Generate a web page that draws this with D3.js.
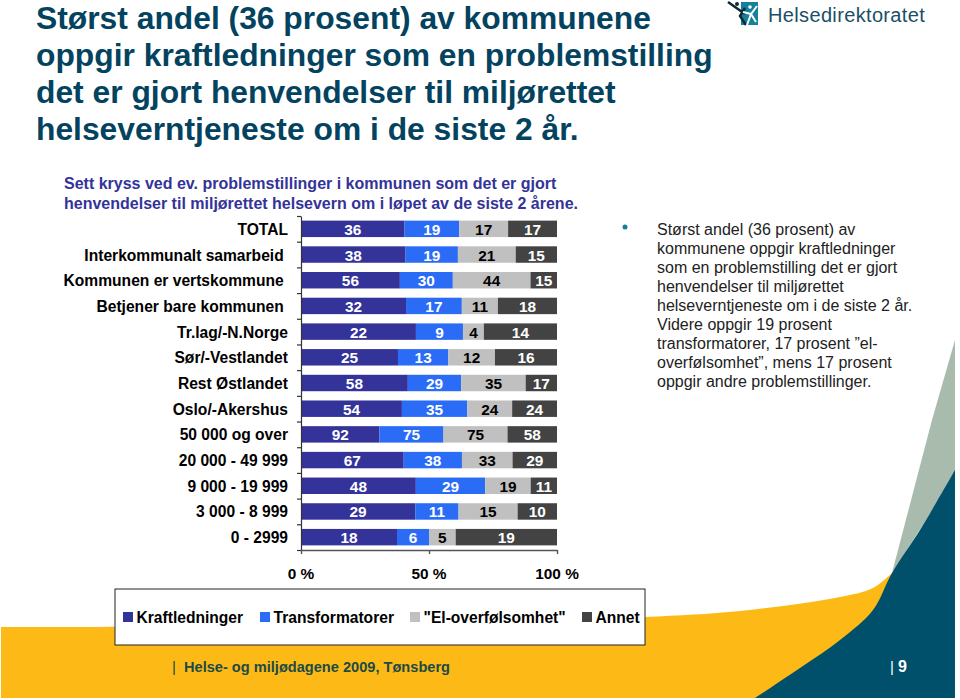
<!DOCTYPE html>
<html><head><meta charset="utf-8">
<script src="https://cdn.jsdelivr.net/npm/d3@7"></script>
<style>
html,body{margin:0;padding:0;background:#fff}
svg{display:block}
text{font-family:"Liberation Sans",Arial,sans-serif;white-space:pre}
</style></head><body>
<svg id="c" width="960" height="700"></svg>
<script>
const titleLines=["Størst andel (36 prosent) av kommunene","oppgir kraftledninger som en problemstilling","det er gjort henvendelser til miljørettet","helseverntjeneste om i de siste 2 år."];
const subtitleLines=["Sett kryss ved ev. problemstillinger i kommunen som det er gjort","henvendelser til miljørettet helsevern om i løpet av de siste 2 årene."];
const bodyLines=["Størst andel (36 prosent) av","kommunene oppgir kraftledninger","som en problemstilling det er gjort","henvendelser til miljørettet","helseverntjeneste om i de siste 2 år.","Videre oppgir 19 prosent","transformatorer, 17 prosent ”el-","overfølsomhet”, mens 17 prosent","oppgir andre problemstillinger."];
const categories=["TOTAL","Interkommunalt samarbeid ","Kommunen er vertskommune ","Betjener bare kommunen ","Tr.lag/-N.Norge","Sør/-Vestlandet","Rest Østlandet","Oslo/-Akershus","50 000 og over","20 000 - 49 999","9 000 - 19 999","3 000 - 8 999","0 - 2999"];
const seriesNames=["Kraftledninger","Transformatorer","\"El-overfølsomhet\"","Annet"];
const kraftledninger=[36,38,56,32,22,25,58,54,92,67,48,29,18];
const transformatorer=[19,19,30,17,9,13,29,35,75,38,29,11,6];
const elOverfolsomhet=[17,21,44,11,4,12,35,24,75,33,19,15,5];
const annet=[17,15,15,18,14,16,17,24,58,29,11,10,19];
const seriesValues=[kraftledninger,transformatorer,elOverfolsomhet,annet];
const seriesColors=["#333399","#2b6cf6","#c0c0c0","#434343"];
const labelColors=["#fff","#fff","#000","#fff"];
const xTicks=[0,0.5,1];
const footerText="Helse- og miljødagene 2009, Tønsberg";
const pageNumber="9";

const svg=d3.select("#c");
const line=d3.line().curve(d3.curveCatmullRom.alpha(.5));

// slide background shapes
const orange=[[1,627],[100,627],[300,625],[500,621],[645,617],[740,611],[840,597],[873,588],[892,573]];
svg.append("path").attr("fill","#fdba17").attr("d",line(orange)+"L892,640L755,698L1,698Z");
svg.append("path").attr("fill","#a9bbac").attr("d","M892,573L932,420L955,340L955,475Z");
const teal=[[755,698],[800,668],[840,640],[873,610],[892,573],[920,530],[955,470]];
svg.append("path").attr("fill","#00506b").attr("d",line(teal)+"L955,698Z");

// logo
const logo=svg.append("g");
logo.append("rect").attr("x",741).attr("y",2).attr("width",17).attr("height",23).attr("fill","#15809b");
logo.append("path").attr("fill","none").attr("stroke","#0b2a36").attr("stroke-width",2.5).attr("d","M728,2L745,14M745,8L740,16L746,25");
logo.append("circle").attr("cx",737).attr("cy",4).attr("r",2).attr("fill","#0b2a36");
logo.append("path").attr("fill","none").attr("stroke","#fff").attr("stroke-width",2).attr("d","M743,12L751,14L757,6M751,14L747,25M751,14L756,22");
logo.append("circle").attr("cx",750).attr("cy",7).attr("r",1.8).attr("fill","#fff");
logo.append("text").attr("x",768).attr("y",22)
  .style("font-size","20px").style("letter-spacing","0.35px").attr("fill","#1a4f66").text("Helsedirektoratet");

// title, subtitle
svg.append("g").selectAll("text").data(titleLines).join("text")
  .attr("x",36).attr("y",(d,i)=>29+i*37).attr("fill","#04435f").style("font-size","31.8px").style("font-weight","700").text(d=>d);
svg.append("g").selectAll("text").data(subtitleLines).join("text")
  .attr("x",64).attr("y",(d,i)=>189+i*20).attr("fill","#333399").style("font-size","16px").style("font-weight","700").text(d=>d);

// chart
const x=d3.scaleLinear().domain([0,1]).range([301,557]);
const yBand=d3.scaleBand().domain(categories).range([216,550]).paddingInner(.36).paddingOuter(.18);
const yTick=d3.scaleLinear().domain([0,categories.length]).range([216,550]);
const rows=categories.map((c,i)=>{const r={cat:c,total:d3.sum(seriesValues,s=>s[i])};seriesNames.forEach((n,j)=>r[n]=seriesValues[j][i]/r.total);return r;});
const stack=d3.stack().keys(seriesNames)(rows);
stack.forEach((layer,j)=>{
  const g=svg.append("g");
  g.selectAll("rect").data(layer).join("rect")
    .attr("x",d=>x(d[0])).attr("width",d=>x(d[1])-x(d[0]))
    .attr("y",d=>yBand(d.data.cat)).attr("height",yBand.bandwidth()).attr("fill",seriesColors[j]);
  g.selectAll("text").data(layer).join("text")
    .attr("x",d=>(x(d[0])+x(d[1]))/2).attr("y",d=>yBand(d.data.cat)+yBand.bandwidth()/2+6)
    .attr("text-anchor","middle").attr("fill",labelColors[j]).style("font-size","15.4px").style("font-weight","700")
    .text((d,i)=>seriesValues[j][i]);
});
const ax=svg.append("g").attr("transform","translate(301,0)")
  .call(d3.axisLeft(yTick).tickValues(d3.range(categories.length+1)).tickFormat("").tickSize(4).tickSizeOuter(0));
ax.selectAll("path,line").attr("stroke","#333").attr("stroke-width",1.2);
const bx=svg.append("g").attr("transform","translate(0,550)")
  .call(d3.axisBottom(x).tickValues(xTicks).tickFormat("").tickSize(4).tickSizeOuter(0));
bx.selectAll("path,line").attr("stroke","#555").attr("stroke-width",1.4);
svg.append("g").selectAll("text").data(xTicks).join("text")
  .attr("x",d=>x(d)).attr("y",579).attr("text-anchor","middle").attr("fill","#000").style("font-size","15.4px").style("font-weight","700")
  .text(d=>d3.format(".0f")(d*100)+" %");
svg.append("g").selectAll("text").data(categories).join("text")
  .attr("x",288).attr("y",d=>yBand(d)+yBand.bandwidth()/2+6).attr("text-anchor","end").attr("fill","#000")
  .style("font-size","15.6px").style("font-weight","700").text(d=>d);

// legend
svg.append("rect").attr("x",115).attr("y",589).attr("width",530).attr("height",56)
  .attr("fill","#fff").attr("stroke","#222").attr("stroke-width",1);
const legX=[123,260,410,582];
const lg=svg.append("g").selectAll("g").data(seriesNames).join("g").attr("transform",(d,i)=>`translate(${legX[i]},0)`);
lg.append("rect").attr("y",612).attr("width",10).attr("height",10).attr("fill",(d,i)=>seriesColors[i]);
lg.append("text").attr("x",13.5).attr("y",622.5).attr("fill","#000").style("font-size","15.6px").style("font-weight","700").text(d=>d);

// body text
svg.append("circle").attr("cx",625).attr("cy",227).attr("r",2.5).attr("fill","#15809b");
svg.append("g").selectAll("text").data(bodyLines).join("text")
  .attr("x",657).attr("y",(d,i)=>234.5+i*19).attr("fill","#222").style("font-size","16px").text(d=>d);

// footer
svg.append("text").attr("x",172).attr("y",672).attr("fill","#1f4a3f").style("font-size","15px").text("|");
svg.append("text").attr("x",184).attr("y",672).attr("fill","#1c4a44").style("font-size","14.6px").style("font-weight","700").text(footerText);
svg.append("text").attr("x",890).attr("y",672).attr("fill","#fff").style("font-size","15px").text("|");
svg.append("text").attr("x",898).attr("y",672).attr("fill","#fff").style("font-size","16px").style("font-weight","700").text(pageNumber);
</script>
</body></html>
